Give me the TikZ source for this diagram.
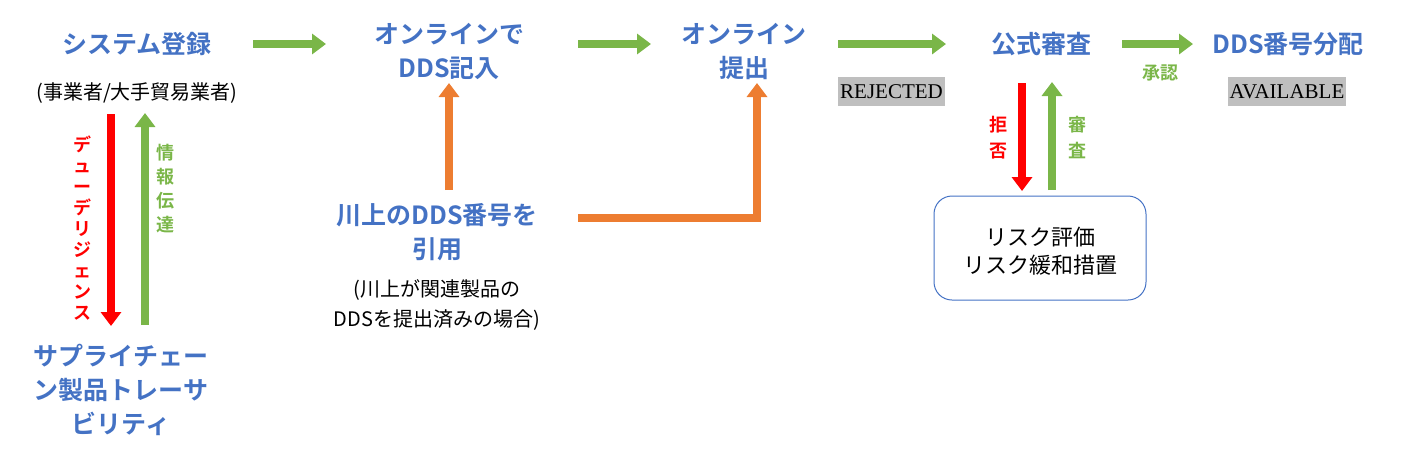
\documentclass[tikz,border=0pt]{standalone}
\usepackage{fontspec}
\setmainfont{Noto Sans CJK JP}
\newfontfamily\jpb{Noto Sans CJK JP Bold}
\newfontfamily\tms{Liberation Serif}
\usetikzlibrary{arrows.meta}
\definecolor{tblue}{HTML}{4472C4}
\definecolor{tgreen}{HTML}{7AB648}
\definecolor{torange}{HTML}{ED7D31}
\definecolor{tred}{HTML}{FF0000}
\definecolor{tgray}{HTML}{BFBFBF}
\tikzset{
 x=1pt,y=-1pt,
 ttl/.style={text=tblue,font=\jpb\fontsize{25}{34}\selectfont,align=center,inner sep=0},
 sub/.style={text=black,font=\fontsize{20}{30}\selectfont,align=center,inner sep=0},
 lab/.style={font=\jpb\fontsize{18}{23}\selectfont,align=center,inner sep=0},
 vlab/.style={font=\jpb\fontsize{18}{21}\selectfont,align=center,inner sep=0},
 stat/.style={fill=tgray,font=\tms\fontsize{21}{24}\selectfont,inner sep=2pt,minimum height=29pt},
 fat/.style={line width=8pt,-{Triangle[length=14pt,width=20pt]}},
}
\begin{document}
\begin{tikzpicture}
\useasboundingbox (0,0) rectangle (1420,472);
\node[ttl] (reg) at (137,44) {システム登録};
\node[sub] (regs) at (137,93) {(事業者/大手貿易業者)};
\node[ttl] (inp) at (449,51) {オンラインで\\DDS記入};
\node[ttl] (sub) at (744,51) {オンライン\\提出};
\node[ttl] (rev) at (1041,44) {公式審査};
\node[ttl] (dds) at (1288,44) {DDS番号分配};
\node[lab,text=tgreen] (ok) at (1160,73) {承認};
\node[stat] (rej) at (891.5,91.5) {REJECTED};
\node[stat] (av) at (1287,91.5) {AVAILABLE};
\node[ttl] (sc) at (121,390) {サプライチェー\\ン製品トレーサ\\ビリティ};
\node[ttl] (up) at (437,232) {川上のDDS番号を\\引用};
\node[sub] (ups) at (437,305) {(川上が関連製品の\\DDSを提出済みの場合)};
\node[draw=tblue,rounded corners=18pt,minimum width=212pt,minimum height=104pt,line width=1pt] (risk) at (1040,248) {};
\node[sub,font=\fontsize{22}{28}\selectfont] (riskt) at (1040,251) {リスク評価\\リスク緩和措置};
\node[vlab,text=tred] (dd) at (82,228) {デ\\ュ\\ー\\デ\\リ\\ジ\\ェ\\ン\\ス};
\node[vlab,text=tgreen,font=\jpb\fontsize{18}{24}\selectfont] (it) at (165,189) {情\\報\\伝\\達};
\node[vlab,text=tred,font=\jpb\fontsize{18}{26}\selectfont] (den) at (998,138) {拒\\否};
\node[vlab,text=tgreen,font=\jpb\fontsize{18}{26}\selectfont] (shn) at (1077,138) {審\\査};
\coordinate (a1) at (253,44); \coordinate (a1e) at (326,44);
\coordinate (a2) at (578,44); \coordinate (a2e) at (651,44);
\coordinate (a3) at (838,44); \coordinate (a3e) at (946,44);
\coordinate (a4) at (1122,44); \coordinate (a4e) at (1193,44);
\draw[fat,tgreen] (a1) -- (a1e);
\draw[fat,tgreen] (a2) -- (a2e);
\draw[fat,tgreen] (a3) -- (a3e);
\draw[fat,tgreen] (a4) -- (a4e);
\coordinate (l1) at (111,114); \coordinate (l2) at (111,326);
\coordinate (g1) at (145,325); \coordinate (g2) at (145,113);
\draw[fat,tred] (l1) -- (l2);
\draw[fat,tgreen] (g1) -- (g2);
\coordinate (r1) at (1022,83); \coordinate (r2) at (1022,191);
\coordinate (h1) at (1052,190); \coordinate (h2) at (1052,82);
\draw[fat,tred] (r1) -- (r2);
\draw[fat,tgreen] (h1) -- (h2);
\coordinate (o1) at (449,190); \coordinate (o2) at (449,83);
\draw[fat,torange] (o1) -- (o2);
\coordinate (p1) at (578,218); \coordinate (p2) at (757,218); \coordinate (p3) at (757,83);
\draw[line width=8pt,torange,-{Triangle[length=14pt,width=20pt]}] (p1) -- (p2) -- (p3);
\end{tikzpicture}
\end{document}
